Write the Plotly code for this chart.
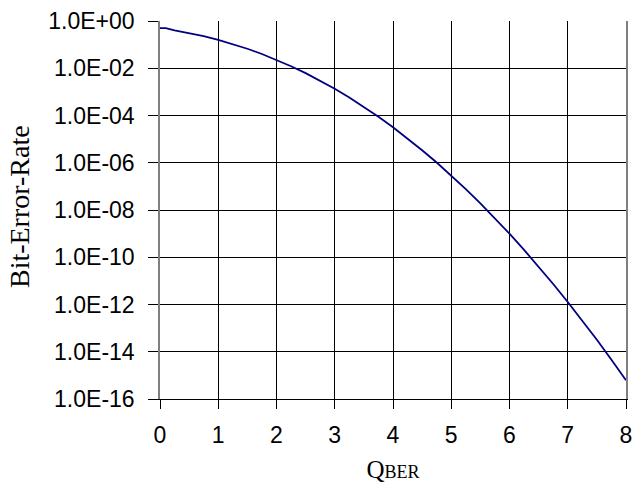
import plotly.graph_objects as go

# Q factor values (x) and read bit-error-rate values (y)
q_values = [0, 0.1, 0.25, 0.5, 0.75, 1.0, 1.25, 1.5, 1.75, 2.0, 2.25, 2.5, 2.75,
            3.0, 3.25, 3.5, 3.75, 4.0, 4.25, 4.5, 4.75, 5.0, 5.25, 5.5, 5.75,
            6.0, 6.25, 6.5, 6.75, 7.0, 7.25, 7.5, 7.75, 8.0]
ber_values = [0.5, 0.5, 0.40, 0.31, 0.227, 0.159, 0.106, 0.0668, 0.0401, 0.0228,
              0.0122, 0.0062, 0.0030, 1.35e-3, 5.8e-4, 2.33e-4, 8.8e-5, 3.2e-5,
              1.07e-5, 3.4e-6, 1.02e-6, 2.9e-7, 7.6e-8, 1.9e-8, 4.5e-9, 9.9e-10,
              2.05e-10, 4.0e-11, 7.4e-12, 1.28e-12, 2.1e-13, 3.2e-14, 4.6e-15,
              6.2e-16]

x_ticks = [0, 1, 2, 3, 4, 5, 6, 7, 8]
y_tick_vals = [1e0, 1e-2, 1e-4, 1e-6, 1e-8, 1e-10, 1e-12, 1e-14, 1e-16]
y_tick_text = ["1.0E+00", "1.0E-02", "1.0E-04", "1.0E-06", "1.0E-08",
               "1.0E-10", "1.0E-12", "1.0E-14", "1.0E-16"]

fig = go.Figure()
fig.add_trace(go.Scatter(x=q_values, y=ber_values, mode="lines",
                         line=dict(color="#000080", width=1.8),
                         showlegend=False, hoverinfo="skip"))

tick_font = dict(family="Liberation Sans, Arial", size=23, color="black")

fig.update_layout(
    width=640, height=491,
    margin=dict(l=160, r=8, t=17, b=92),
    paper_bgcolor="white", plot_bgcolor="white",
    xaxis=dict(range=[0, 8], tickvals=x_ticks, ticks="outside", ticklen=9,
               tickcolor="black", tickwidth=1, showgrid=True, gridcolor="black",
               gridwidth=1, zeroline=False, showline=True, linecolor="black",
               linewidth=1, tickfont=tick_font, ticklabelstandoff=6,
               title=dict(text="Q<span style='font-size:18px'>BER</span>",
                          font=dict(family="Liberation Serif, Times New Roman",
                                    size=25, color="black"),
                          standoff=13)),
    yaxis=dict(type="log", range=[-16, 0], tickvals=y_tick_vals,
               ticktext=y_tick_text, ticks="outside", ticklen=10,
               tickcolor="black", tickwidth=1, showgrid=True, gridcolor="black",
               gridwidth=1, zeroline=False, showline=True, linecolor="#808080",
               linewidth=1.5, mirror=True, tickfont=tick_font,
               ticklabelstandoff=9),
    annotations=[dict(text="Bit-Error-Rate", textangle=-90, xref="paper",
                      yref="paper", x=-(160 - 17) / 472, y=0.51,
                      xanchor="center", yanchor="middle", showarrow=False,
                      font=dict(family="Liberation Serif, Times New Roman",
                                size=28, color="black"))],
)

fig.write_html("out.html")
